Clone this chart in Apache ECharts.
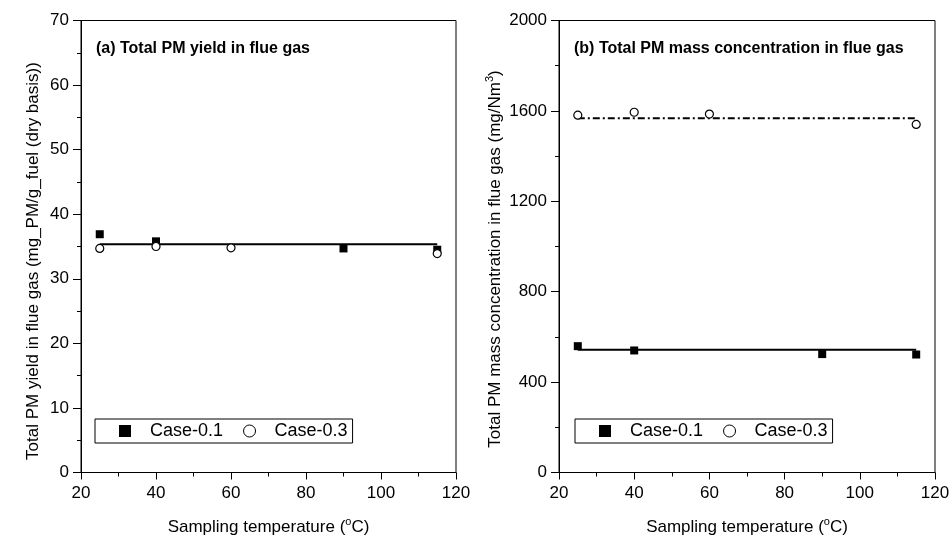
<!DOCTYPE html>
<html>
<head>
<meta charset="utf-8">
<script src="https://cdn.jsdelivr.net/npm/echarts@6/dist/echarts.min.js"></script>
<style>html,body{margin:0;padding:0;background:#fff}#c{width:951px;height:539px}</style>
</head>
<body>
<div id="c"></div>
<script>
// ---- data ----
const tempA01 = [25, 40, 90, 115];
const yieldA01 = [36.9, 35.8, 34.7, 34.5];
const tempA03 = [25, 40, 60, 115];
const yieldA03 = [34.7, 35.0, 34.8, 33.9];
const fitTempA = [25, 115];
const fitYieldA = [35.35, 35.35];

const tempB01 = [25, 40, 90, 115];
const concB01 = [559, 540, 524, 522];
const tempB03 = [25, 40, 60, 115];
const concB03 = [1581, 1594, 1586, 1540];
const fitTempB = [25, 115];
const fitConcB01 = [543, 543];
const fitConcB03 = [1568, 1568];

const seriesNames = ['Case-0.1', 'Case-0.3'];
const xTicks = [20, 40, 60, 80, 100, 120];

function pairs(xs, ys) { return xs.map((x, i) => [x, ys[i]]); }

const FONT = 'Liberation Sans, Arial, sans-serif';
const black = '#000';

function xAxis(gridIndex) {
  return {
    type: 'value', gridIndex, min: xTicks[0], max: xTicks[xTicks.length - 1], interval: 20,
    axisLine: { lineStyle: { color: black, width: 1 } },
    axisTick: { show: true, inside: false, length: 7, lineStyle: { color: black } },
    minorTick: { show: true, splitNumber: 2, length: 4, lineStyle: { color: black } },
    splitLine: { show: false },
    axisLabel: { color: black, fontFamily: FONT, fontSize: 17, margin: 12, formatter: v => String(v) },
    name: 'Sampling temperature ({sup|o}C)',
    nameLocation: 'middle', nameGap: 44,
    nameTextStyle: {
      color: black, fontFamily: FONT, fontSize: 17, lineHeight: 22,
      rich: { sup: { fontSize: 11, fontFamily: FONT, color: black, verticalAlign: 'top', lineHeight: 22, padding: [0, 0, 10, 0] } }
    }
  };
}
function yAxis(gridIndex, max, interval) {
  return {
    type: 'value', gridIndex, min: 0, max, interval,
    axisLine: { show: true, lineStyle: { color: black, width: 1 } },
    axisTick: { show: true, inside: false, length: 8, lineStyle: { color: black } },
    minorTick: { show: true, splitNumber: 2, length: 4, lineStyle: { color: black } },
    splitLine: { show: false },
    axisLabel: { color: black, fontFamily: FONT, fontSize: 17, margin: 12, formatter: v => String(v) }
  };
}
function legend(left) {
  return {
    data: [
      { name: seriesNames[0], icon: 'rect', itemStyle: { color: black } },
      { name: seriesNames[1], icon: 'circle', itemStyle: { color: '#fff', borderColor: black, borderWidth: 1 } }
    ],
    left, top: 419, orient: 'horizontal',
    itemWidth: 12, itemHeight: 12, itemGap: 20,
    borderColor: black, borderWidth: 1, borderRadius: 0,
    padding: [3, 5, 3, 24],
    selectedMode: false,
    textStyle: { color: black, fontFamily: FONT, fontSize: 18, padding: [0, 0, 0, 14] }
  };
}
function scatter(name, xi, data, filled) {
  return {
    name, type: 'scatter', xAxisIndex: xi, yAxisIndex: xi,
    data, symbol: filled ? 'rect' : 'circle', symbolSize: 8,
    itemStyle: filled ? { color: black, opacity: 1 } : { color: '#fff', borderColor: black, borderWidth: 1.2, opacity: 1 },
    z: 5
  };
}
function fit(name, xi, data, type) {
  return {
    name, type: 'line', xAxisIndex: xi, yAxisIndex: xi, data, symbol: 'none',
    lineStyle: { color: black, width: 2, type }, z: 3, silent: true
  };
}

const option = {
  backgroundColor: '#fff',
  animation: false,
  textStyle: { fontFamily: FONT },
  grid: [
    { left: 81, top: 20.5, width: 375, height: 452, show: true, borderColor: black, borderWidth: 1, containLabel: false, outerBoundsMode: 'none' },
    { left: 559, top: 20.5, width: 376, height: 452, show: true, borderColor: black, borderWidth: 1, containLabel: false, outerBoundsMode: 'none' }
  ],
  xAxis: [xAxis(0), xAxis(1)],
  yAxis: [yAxis(0, 70, 10), yAxis(1, 2000, 400)],
  legend: [legend(95), legend(575)],
  graphic: [
    { type: 'text', left: 96, top: 41, style: { text: '(a) Total PM yield in flue gas', font: 'bold 16px ' + FONT, fill: black } },
    { type: 'text', left: 574, top: 41, style: { text: '(b) Total PM mass concentration in flue gas', font: 'bold 16px ' + FONT, fill: black } },
    { type: 'text', x: 33, y: 261, rotation: Math.PI / 2,
      style: { text: 'Total PM yield in flue gas (mg_PM/g_fuel (dry basis))', font: '17px ' + FONT, fill: black, align: 'center', verticalAlign: 'middle' } },
    { type: 'text', x: 495, y: 259, rotation: Math.PI / 2,
      style: { text: 'Total PM mass concentration in flue gas (mg/Nm{sup|3})', font: '17px ' + FONT, fill: black, align: 'center', verticalAlign: 'middle',
        rich: { sup: { font: '11px ' + FONT, fill: black, verticalAlign: 'top', padding: [0, 0, 10, 0] } } } }
  ],
  series: [
    fit('fitA', 0, pairs(fitTempA, fitYieldA), 'solid'),
    scatter(seriesNames[0], 0, pairs(tempA01, yieldA01), true),
    scatter(seriesNames[1], 0, pairs(tempA03, yieldA03), false),
    fit('fitB01', 1, pairs(fitTempB, fitConcB01), 'solid'),
    fit('fitB03', 1, pairs(fitTempB, fitConcB03), [7, 3, 2, 3]),
    scatter(seriesNames[0], 1, pairs(tempB01, concB01), true),
    scatter(seriesNames[1], 1, pairs(tempB03, concB03), false)
  ]
};
const chart = echarts.init(document.getElementById('c'), null, { renderer: 'canvas' });
chart.setOption(option);
</script>
</body>
</html>
